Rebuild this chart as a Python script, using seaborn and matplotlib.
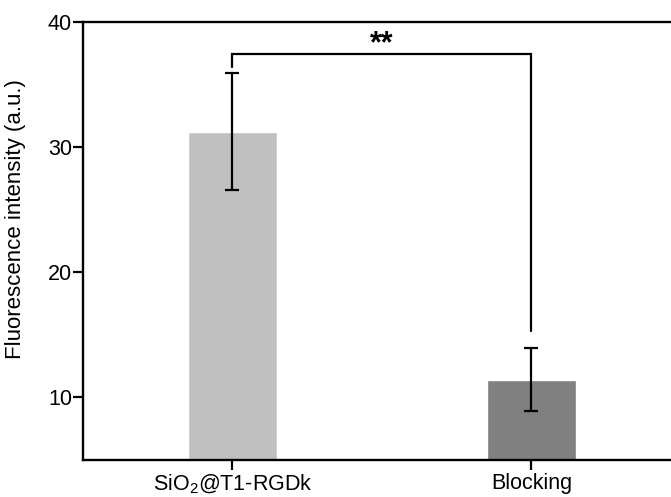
import matplotlib
matplotlib.use("Agg")
import matplotlib.pyplot as plt
import seaborn as sns
import pandas as pd

# Group labels, mean intensities and error half-widths
groups = ["SiO$_\\mathregular{2}$@T1-RGDk", "Blocking"]
means = [31.25, 11.42]
errors = [4.65, 2.53]
bar_colors = ["#c0c0c0", "#808080"]
y_ticks = [10, 20, 30, 40]

# Significance bracket: top level, left/right drop ends, label
bracket_top = 37.45
bracket_left_end = 36.4
bracket_right_end = 15.3
sig_label = "**"

sns.set_theme(style="white")
plt.rcParams["font.family"] = ["Liberation Sans", "DejaVu Sans"]
plt.rcParams["mathtext.fontset"] = "custom"
plt.rcParams["mathtext.rm"] = "Liberation Sans"
plt.rcParams["mathtext.it"] = "Liberation Sans:italic"
plt.rcParams["text.color"] = "black"
plt.rcParams["axes.labelcolor"] = "black"
plt.rcParams["xtick.color"] = "black"
plt.rcParams["ytick.color"] = "black"

df = pd.DataFrame({"group": groups, "value": means})

fig = plt.figure(figsize=(6.71, 4.97), dpi=100)
ax = fig.add_axes([0.1237, 0.0744, 0.891, 0.8813])

sns.barplot(data=df, x="group", y="value", hue="group", palette=bar_colors,
            width=0.3, errorbar=None, legend=False, ax=ax, saturation=1)

ax.errorbar(range(len(means)), means, yerr=errors, fmt="none",
            ecolor="black", elinewidth=1.6, capsize=5, capthick=1.6)

# Significance bracket between the two groups
ax.plot([0, 0, 1, 1],
        [bracket_left_end, bracket_top, bracket_top, bracket_right_end],
        color="black", lw=1.6, solid_joinstyle="miter")
ax.text(0.5, bracket_top - 0.45, sig_label, ha="center", va="bottom",
        fontsize=22, fontweight="bold")

ax.set_xlim(-0.5, 1.5)
ax.set_ylim(5, 40)
ax.set_yticks(y_ticks)
ax.set_xlabel("")
ax.set_ylabel("Fluorescence intensity (a.u.)", fontsize=16)
ax.yaxis.set_label_coords(-0.095, 0.551)

for side in ["left", "bottom", "top"]:
    ax.spines[side].set_visible(True)
    ax.spines[side].set_color("black")
    ax.spines[side].set_linewidth(1.7)
ax.spines["right"].set_visible(False)

ax.tick_params(axis="both", which="major", direction="out", length=7,
               width=1.6, labelsize=15.5, pad=1,
               left=True, bottom=True)
ax.tick_params(axis="x", pad=2)

fig.savefig("out.png", dpi=100)
